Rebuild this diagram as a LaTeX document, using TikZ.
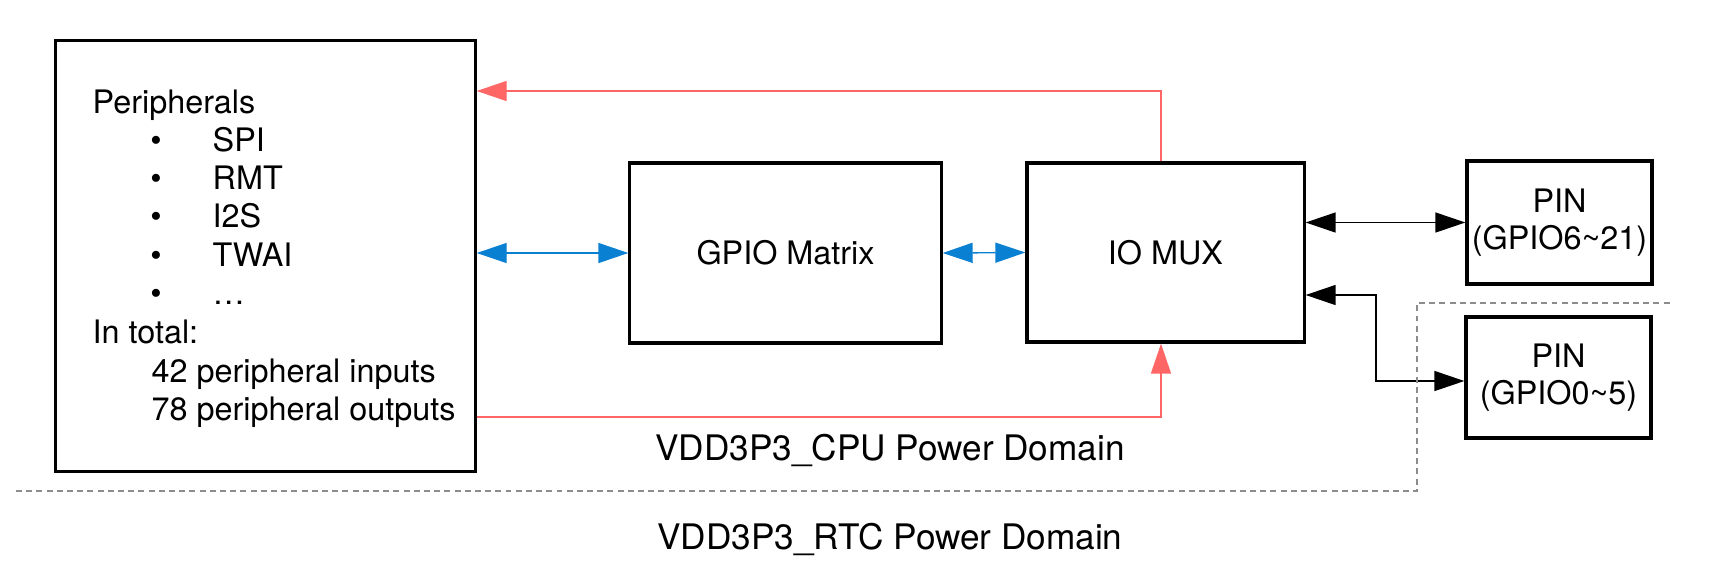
\documentclass[tikz,border=0pt]{standalone}
\usepackage{fontspec}
\setmainfont{TeX Gyre Heros}
\usepackage{xcolor}
\usepackage{tikz}
\usetikzlibrary{arrows.meta,positioning}
\definecolor{muxred}{HTML}{FF6666}
\definecolor{muxblue}{HTML}{0A80D2}
\definecolor{domgray}{HTML}{8C8C8C}
\tikzset{tri/.tip={Triangle[length=0.3cm,width=0.2cm]}}

\begin{document}
\begin{tikzpicture}[x=0.01cm,y=-0.01cm,font=\fontsize{9.2}{10.6}\selectfont,
  blk/.style={draw,line width=0.9pt,inner sep=0pt,align=center},
  txt/.style={anchor=base west,inner sep=0pt},
  redsig/.style={muxred,line width=0.4pt},
  bluesig/.style={muxblue,line width=0.4pt,tri-tri},
  blksig/.style={black,line width=0.4pt,tri-tri},
  domline/.style={domgray,line width=0.5pt,dash pattern=on 1.7pt off 1.2pt}]
  \useasboundingbox (0,0) rectangle (1714,581);
  \node[blk,minimum width=4.19cm,minimum height=4.30cm] (periph) at (265.5,256) {};
  \node[blk,minimum width=3.11cm,minimum height=1.80cm] (gpio) at (785.5,253) {GPIO Matrix};
  \node[blk,minimum width=2.77cm,minimum height=1.79cm] (iomux) at (1165.5,252.5) {IO MUX};
  \node[blk,minimum width=1.85cm,minimum height=1.23cm] (pinhi) at (1559.5,222.5) {PIN\\(GPIO6\textasciitilde21)};
  \node[blk,minimum width=1.85cm,minimum height=1.21cm] (pinlo) at (1558.5,377.5) {PIN\\(GPIO0\textasciitilde5)};
  \node[txt] (plist) at (92,113) {Peripherals};
  \foreach \lab [count=\i] in {SPI,RMT,I2S,TWAI,\ldots} {
    \node[anchor=base,inner sep=0pt] (dot\i) at (156,113+38.3*\i) {\textbullet};
    \node[txt] (item\i) at (212,113+38.3*\i) {\lab};
  }
  \node[txt] (total) at (92,343) {In total:};
  \node[txt] (nin) at (151,382) {42 peripheral inputs};
  \node[txt] (nout) at (151,420) {78 peripheral outputs};
  \coordinate (rtop) at (1161,91);
  \coordinate (rbot) at (1161,417);
  \draw[redsig,-tri] (rtop |- iomux.north) -- (rtop) -- (rtop -| periph.east);
  \draw[redsig,-tri] (rbot -| periph.east) -- (rbot) -- (rbot |- iomux.south);
  \draw[bluesig] (periph.east |- gpio.west) -- (gpio.west);
  \draw[bluesig] (gpio.east) -- (iomux.west);
  \coordinate (lowbend) at (1376,295);
  \draw[blksig] (iomux.east |- pinhi.west) -- (pinhi.west);
  \draw[blksig] (iomux.east |- lowbend) -- (lowbend) |- ([yshift=-0.035cm]pinlo.west);
  \coordinate (dleft) at (16,491);
  \coordinate (dcorner) at (1417,491);
  \coordinate (dtop) at (1417,303);
  \coordinate (dright) at (1672,303);
  \draw[domline] (dleft) -- (dcorner) -- (dtop) -- (dright);
  \node[anchor=base,font=\fontsize{10}{12}\selectfont] (cpudom) at (890,460) {VDD3P3\_CPU Power Domain};
  \node[anchor=base,font=\fontsize{10}{12}\selectfont] (rtcdom) at (890,549) {VDD3P3\_RTC Power Domain};
\end{tikzpicture}
\end{document}
